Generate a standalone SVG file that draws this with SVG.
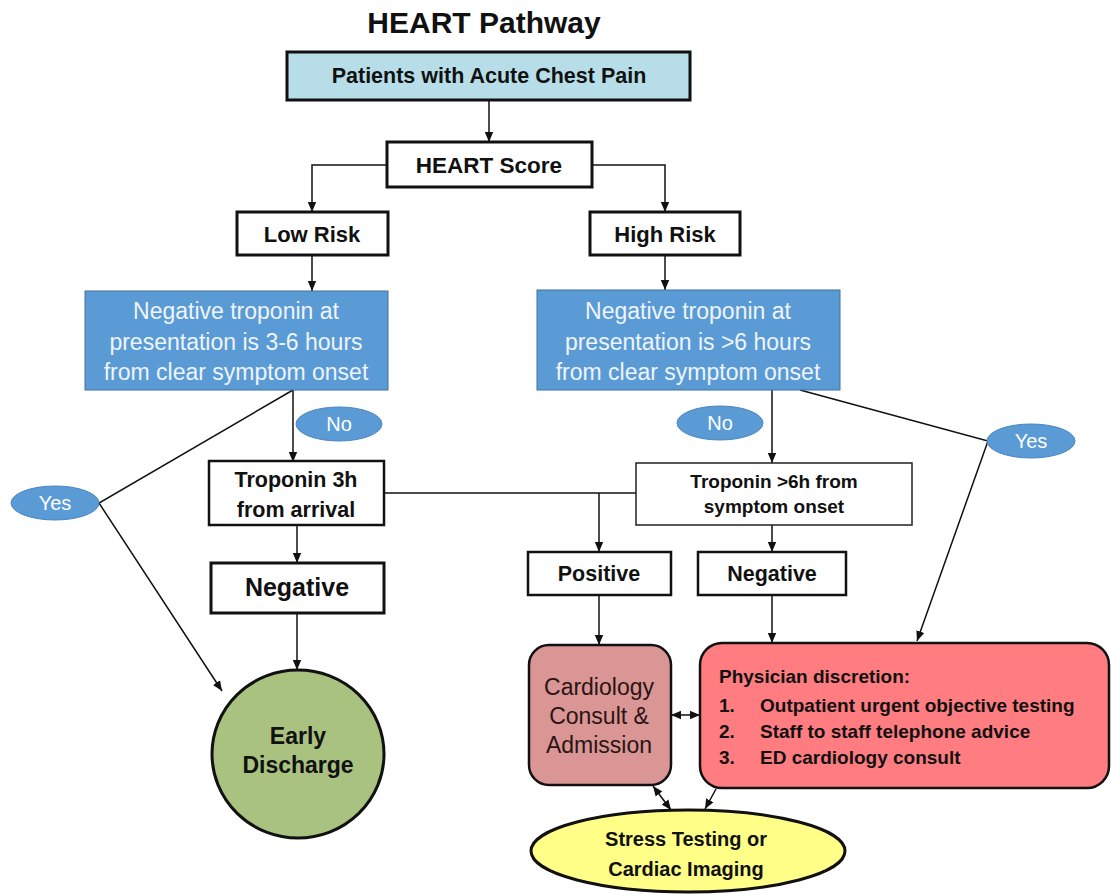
<svg xmlns="http://www.w3.org/2000/svg" width="1111" height="895" viewBox="0 0 1111 895">
<style>
text{font-family:"Liberation Sans",Arial,sans-serif;text-anchor:middle}
.b{font-weight:bold;fill:#111}
.box{fill:#fff;stroke:#111;stroke-width:3}
.blue{fill:#5b9bd5;stroke:#41719c;stroke-width:1}
.bt{fill:#eef4fb;font-size:23px}
.lab{fill:#5b9bd5;stroke:#4a86bf;stroke-width:1}
.lt{fill:#fff;font-size:20px}
.con{fill:none;stroke:#111;stroke-width:1.5}
.arr{marker-end:url(#ah)}
.dbl{marker-end:url(#ah);marker-start:url(#ah)}
</style>
<defs>
<marker id="ah" markerUnits="userSpaceOnUse" markerWidth="10" markerHeight="10" refX="10" refY="5" orient="auto-start-reverse"><path d="M0,0.8 L10,5 L0,9.2 z" fill="#111"/></marker>
</defs>
<g id="title"><text x="484" y="33" class="b" font-size="30">HEART Pathway</text></g>
<g id="connectors">
<path class="con arr" d="M489,100 V142"/>
<path class="con arr" d="M387,165 H312 V212"/>
<path class="con arr" d="M592,165 H665 V212"/>
<path class="con arr" d="M312,255 V291"/>
<path class="con arr" d="M665,255 V290"/>
<path class="con arr" d="M293,390 V462"/>
<path class="con arr" d="M293,390 L99,503 L222,691"/>
<path class="con arr" d="M297,525 V563"/>
<path class="con arr" d="M297,613 V670"/>
<path class="con" d="M384,493 H636"/>
<path class="con arr" d="M599,493 V552"/>
<path class="con arr" d="M772,390 V463"/>
<path class="con arr" d="M800,390 L988,441 L917,641"/>
<path class="con arr" d="M772,525 V552"/>
<path class="con arr" d="M599,595 V645"/>
<path class="con arr" d="M772,595 V643"/>
<path class="con dbl" d="M671,715 H700"/>
<path class="con dbl" d="M653,786 L671,810"/>
<path class="con arr" d="M716,789 L705,809"/>
</g>
<g id="patients"><rect x="287" y="52" width="403" height="48" fill="#b7dee8" stroke="#111" stroke-width="3"/><text x="489" y="83" class="b" font-size="21.5">Patients with Acute Chest Pain</text></g>
<g id="heart-score"><rect x="387" y="142" width="205" height="45" class="box"/><text x="489" y="173" class="b" font-size="22.5">HEART Score</text></g>
<g id="low-risk"><rect x="237" y="212" width="151" height="43" class="box"/><text x="312" y="242" class="b" font-size="22">Low Risk</text></g>
<g id="high-risk"><rect x="590" y="212" width="150" height="43" class="box"/><text x="665" y="242" class="b" font-size="22">High Risk</text></g>
<g id="neg-trop-low"><rect x="85" y="291" width="303" height="99" class="blue"/><text x="236" y="319" class="bt">Negative troponin at</text><text x="236" y="350" class="bt">presentation is 3-6 hours</text><text x="236" y="380" class="bt">from clear symptom onset</text></g>
<g id="neg-trop-high"><rect x="537" y="290" width="303" height="100" class="blue"/><text x="688" y="319" class="bt">Negative troponin at</text><text x="688" y="350" class="bt">presentation is &gt;6 hours</text><text x="688" y="380" class="bt">from clear symptom onset</text></g>
<g id="no-left"><ellipse cx="339" cy="424" rx="43" ry="17" class="lab"/><text x="339" y="431" class="lt">No</text></g>
<g id="yes-left"><ellipse cx="55" cy="503" rx="44" ry="17" class="lab"/><text x="55" y="510" class="lt">Yes</text></g>
<g id="no-right"><ellipse cx="720" cy="423" rx="43" ry="17" class="lab"/><text x="720" y="430" class="lt">No</text></g>
<g id="yes-right"><ellipse cx="1031" cy="441" rx="44" ry="17" class="lab"/><text x="1031" y="448" class="lt">Yes</text></g>
<g id="troponin-3h"><rect x="209" y="461" width="175" height="64" fill="#fff" stroke="#111" stroke-width="2.5"/><text x="296" y="487" class="b" font-size="21.5">Troponin 3h</text><text x="296" y="517" class="b" font-size="21.5">from arrival</text></g>
<g id="negative-left"><rect x="211" y="563" width="173" height="50" class="box"/><text x="297" y="596" class="b" font-size="25">Negative</text></g>
<g id="early-discharge"><ellipse cx="298" cy="754" rx="86" ry="84" fill="#aac27f" stroke="#111" stroke-width="3"/><text x="298" y="744" class="b" font-size="23">Early</text><text x="298" y="773" class="b" font-size="23">Discharge</text></g>
<g id="troponin-6h"><rect x="636" y="463" width="276" height="62" fill="#fff" stroke="#222" stroke-width="1.5"/><text x="774" y="488" class="b" font-size="19">Troponin &gt;6h from</text><text x="774" y="513" class="b" font-size="19">symptom onset</text></g>
<g id="positive"><rect x="528" y="552" width="143" height="43" fill="#fff" stroke="#111" stroke-width="2.5"/><text x="599" y="581" class="b" font-size="21.5">Positive</text></g>
<g id="negative-right"><rect x="698" y="552" width="148" height="43" fill="#fff" stroke="#111" stroke-width="2.5"/><text x="772" y="581" class="b" font-size="21.5">Negative</text></g>
<g id="cardiology"><rect x="529" y="645" width="142" height="140" rx="20" fill="#d99694" stroke="#111" stroke-width="2.5"/><text x="599" y="695" font-size="23" fill="#2a1414">Cardiology</text><text x="599" y="724" font-size="23" fill="#2a1414">Consult &amp;</text><text x="599" y="753" font-size="23" fill="#2a1414">Admission</text></g>
<g id="physician"><rect x="700" y="643" width="409" height="145" rx="22" fill="#ff7c80" stroke="#111" stroke-width="2.5"/><text x="719" y="683" class="b" font-size="19" text-anchor="start" style="text-anchor:start">Physician discretion:</text><text x="719" y="712" class="b" font-size="19" style="text-anchor:start">1.</text><text x="760" y="712" class="b" font-size="19" style="text-anchor:start">Outpatient urgent objective testing</text><text x="719" y="738" class="b" font-size="19" style="text-anchor:start">2.</text><text x="760" y="738" class="b" font-size="19" style="text-anchor:start">Staff to staff telephone advice</text><text x="719" y="764" class="b" font-size="19" style="text-anchor:start">3.</text><text x="760" y="764" class="b" font-size="19" style="text-anchor:start">ED cardiology consult</text></g>
<g id="stress"><ellipse cx="688" cy="851" rx="157" ry="41" fill="#ffff88" stroke="#111" stroke-width="3"/><text x="686" y="846" class="b" font-size="20">Stress Testing or</text><text x="686" y="876" class="b" font-size="20">Cardiac Imaging</text></g>
</svg>
